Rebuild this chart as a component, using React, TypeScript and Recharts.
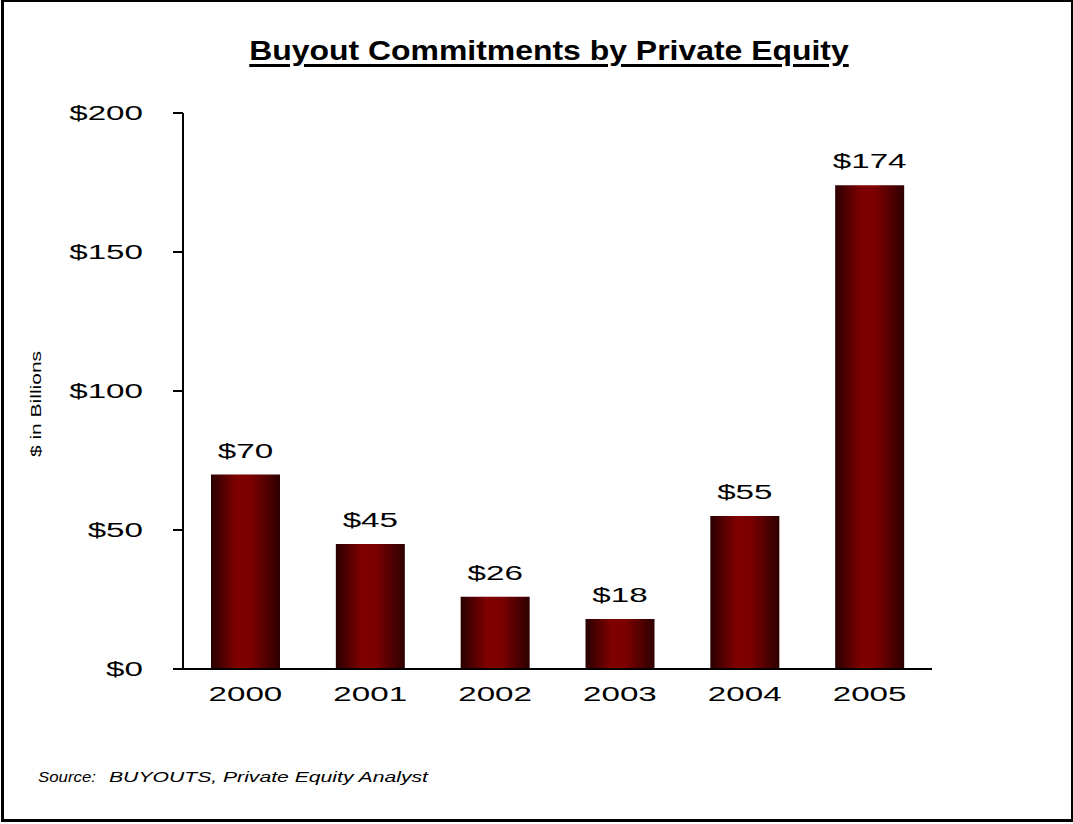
import React from "react"
import { BarChart, Bar, XAxis, YAxis, LabelList } from "recharts"

const years = ["2000", "2001", "2002", "2003", "2004", "2005"]
const commitments = [70, 45, 26, 18, 55, 174]
const yTicks = [0, 50, 100, 150, 200]

const data = years.map((year, i) => ({ year, value: commitments[i] }))

const FONT = "'Liberation Sans', Arial, Helvetica, sans-serif"
const STRETCH = 1.58

function WideText({ x, y, text, anchor }: { x: number; y: number; text: string; anchor: "start" | "middle" | "end" }) {
  return (
    <g transform={`translate(${x},${y}) scale(${STRETCH},1)`}>
      <text x={0} y={0} textAnchor={anchor} dominantBaseline="central" fontSize={21} fontFamily={FONT} fill="#000">
        {text}
      </text>
    </g>
  )
}

const YTick = (props: any) => <WideText x={props.x} y={props.y} text={`$${props.payload.value}`} anchor="end" />
const XTick = (props: any) => <WideText x={props.x} y={props.y} text={props.payload.value} anchor="middle" />

const BarValue = (props: any) => {
  const { x, y, width, value } = props
  return <WideText x={x + width / 2} y={y - 24} text={`$${value}`} anchor="middle" />
}

export default function App() {
  return (
    <div style={{ position: "absolute", left: 0, top: 0, width: 1073, height: 824, background: "#fff", fontFamily: FONT }}>
      {/* frame */}
      <div
        style={{
          position: "absolute",
          left: 1,
          top: 0,
          width: 1067,
          height: 817,
          border: "2px solid #000",
          borderLeftWidth: 3,
          borderBottomWidth: 3,
          borderRightWidth: 3,
        }}
      />

      <div
        style={{
          position: "absolute",
          left: 549,
          top: 33,
          transform: "translateX(-50%) scaleX(1.12)",
          whiteSpace: "nowrap",
          fontSize: 28.5,
          fontWeight: "bold",
          textDecoration: "underline",
          textDecorationThickness: 3,
          textUnderlineOffset: 4,
          lineHeight: "34px",
        }}
      >
        Buyout Commitments by Private Equity
      </div>

      <div
        style={{
          position: "absolute",
          left: 35,
          top: 404,
          transform: "translate(-50%,-50%) rotate(-90deg) scaleX(1.4)",
          whiteSpace: "nowrap",
          fontSize: 15,
        }}
      >
        $ in Billions
      </div>

      <div
        style={{
          position: "absolute",
          left: 38,
          top: 768,
          fontSize: 15,
          fontStyle: "italic",
          whiteSpace: "nowrap",
          transformOrigin: "0 50%",
          transform: "scaleX(1.12)",
        }}
      >
        Source:
      </div>
      <div
        style={{
          position: "absolute",
          left: 109,
          top: 768,
          fontSize: 15,
          fontStyle: "italic",
          whiteSpace: "nowrap",
          transformOrigin: "0 50%",
          transform: "scaleX(1.41)",
        }}
      >
        BUYOUTS, Private Equity Analyst
      </div>

      <div style={{ position: "absolute", left: 0, top: 0 }}>
        <BarChart width={1073} height={824} data={data} margin={{ top: 113, right: 141, bottom: 125, left: 83 }}>
          <defs>
            <linearGradient id="barGrad" x1="0" y1="0" x2="1" y2="0">
              <stop offset="0%" stopColor="#2a0000" />
              <stop offset="38%" stopColor="#800000" />
              <stop offset="58%" stopColor="#7c0000" />
              <stop offset="100%" stopColor="#2e0000" />
            </linearGradient>
          </defs>
          <XAxis
            dataKey="year"
            axisLine={{ stroke: "#000", strokeWidth: 2 }}
            tickLine={false}
            tickSize={0}
            tickMargin={25}
            height={30}
            tick={<XTick />}
            interval={0}
          />
          <YAxis
            domain={[0, 200]}
            ticks={yTicks}
            width={100}
            axisLine={{ stroke: "#000", strokeWidth: 2 }}
            tickLine={{ stroke: "#000", strokeWidth: 2 }}
            tickSize={10}
            tickMargin={30}
            tick={<YTick />}
            interval={0}
          />
          <Bar dataKey="value" fill="url(#barGrad)" barSize={69} isAnimationActive={false}>
            <LabelList dataKey="value" content={<BarValue />} />
          </Bar>
        </BarChart>
      </div>
    </div>
  )
}
